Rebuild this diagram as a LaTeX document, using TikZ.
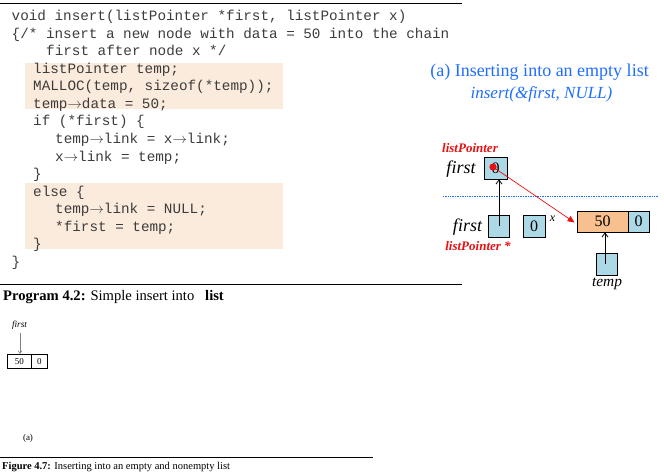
\documentclass[tikz,border=0pt]{standalone}
\usepackage{fontspec}
\setmainfont{Liberation Serif}
\newfontfamily\codefont{Liberation Mono}
\usetikzlibrary{arrows.meta}
\definecolor{peach}{RGB}{251,235,220}
\definecolor{codegray}{RGB}{60,60,60}
\definecolor{titleblue}{RGB}{30,110,255}
\definecolor{boxblue}{RGB}{173,216,230}
\definecolor{nodeorange}{RGB}{249,192,143}
\definecolor{labelred}{RGB}{232,16,16}
\newcommand{\codearrow}{\ensuremath{\rightarrow}}
\tikzset{
  codeline/.style={anchor=base west,inner sep=0pt,text=codegray,font=\codefont\fontsize{14.3}{17.6}\selectfont},
  hilite/.style={fill=peach,draw=none},
  rule/.style={line width=1pt,black},
  ptrbox/.style={draw=black,line width=0.8pt,fill=boxblue,minimum width=22pt,minimum height=22pt,inner sep=0pt,font=\fontsize{16}{16}\selectfont},
  datacell/.style={draw=black,line width=0.8pt,fill=nodeorange,minimum width=51pt,minimum height=21pt,inner sep=0pt,font=\fontsize{16}{16}\selectfont},
  linkcell/.style={draw=black,line width=0.8pt,fill=boxblue,minimum width=21pt,minimum height=21pt,inner sep=0pt,font=\fontsize{16}{16}\selectfont},
  varlabel/.style={inner sep=0pt,font=\itshape\fontsize{18}{18}\selectfont},
  typelabel/.style={inner sep=0pt,text=labelred,font=\bfseries\itshape\fontsize{13}{13}\selectfont},
  ptrarrow/.style={-{Straight Barb[length=4pt,width=6pt]},line width=0.8pt,black},
  redarrow/.style={-{Triangle[length=7pt,width=6pt]},line width=0.7pt,labelred},
  smallbox/.style={draw=black,line width=0.5pt,minimum height=14pt,inner sep=0pt,font=\fontsize{9}{9}\selectfont},
}
\begin{document}
\begin{tikzpicture}[x=1pt,y=-1pt]
\useasboundingbox (0,0) rectangle (664,474);
% highlight boxes
\fill[hilite] (25,63) rectangle (283,109);
\fill[hilite] (25,183) rectangle (283,249);
% rules
\draw[rule] (0,3) -- (462,3);
\draw[rule] (0,284) -- (462,284);
\draw[rule] (0,457) -- (373,457);
% code
\node[codeline] (c0) at (11.5,20.5) {void insert(listPointer *first, listPointer x)};
\node[codeline] (c1) at (11.5,38.1) {\{/* insert a new node with data = 50 into the chain};
\node[codeline] (c2) at (46,55.6) {first after node x */};
\node[codeline] (c3) at (33,73.2) {listPointer temp;};
\node[codeline] (c4) at (33,90.8) {MALLOC(temp, sizeof(*temp));};
\node[codeline] (c5) at (33,108.4) {temp\codearrow data = 50;};
\node[codeline] (c6) at (33,125.9) {if (*first) \{};
\node[codeline] (c7) at (55,143.5) {temp\codearrow link = x\codearrow link;};
\node[codeline] (c8) at (55,161.1) {x\codearrow link = temp;};
\node[codeline] (c9) at (33,178.6) {\}};
\node[codeline] (c10) at (33,196.2) {else \{};
\node[codeline] (c11) at (55,213.8) {temp\codearrow link = NULL;};
\node[codeline] (c12) at (55,231.3) {*first = temp;};
\node[codeline] (c13) at (33,248.9) {\}};
\node[codeline] (c14) at (11.5,266.5) {\}};
% program caption
\node[anchor=base west,inner sep=0pt,font=\fontsize{14.6}{14.6}\selectfont] (pcap) at (3,300.5) {\textbf{Program 4.2:} Simple insert into};
\node[anchor=base west,inner sep=0pt,font=\bfseries\fontsize{14.6}{14.6}\selectfont] (plist) at (205,300.5) {list};
% lower-left figure
\node[inner sep=0pt,font=\itshape\fontsize{9.3}{9.3}\selectfont] (sfirst) at (19.5,325) {first};
\node[smallbox,minimum width=24pt,anchor=north west] (s50) at (7,354) {50};
\node[smallbox,minimum width=16pt,anchor=north west] (s0) at (31,354) {0};
\draw[-{Straight Barb[length=3pt,width=4pt]},line width=0.5pt,gray] (20,333) -- (20,354);
\node[inner sep=0pt,font=\fontsize{9}{9}\selectfont] (la) at (28,438) {(a)};
\node[anchor=base west,inner sep=0pt,font=\fontsize{10.5}{10.5}\selectfont] (fcap) at (2,469.5) {\textbf{Figure 4.7:} Inserting into an empty and nonempty list};
% right diagram titles
\node[inner sep=0pt,text=titleblue,font=\fontsize{18}{18}\selectfont] (t1) at (539.5,72) {(a) Inserting into an empty list};
\node[inner sep=0pt,text=titleblue,font=\itshape\fontsize{17}{17}\selectfont] (t2) at (541.5,94) {insert(\&first, NULL)};
% dotted separator
\draw[densely dotted,line width=0.7pt,titleblue] (443,196) -- (658,196);
% boxes
\node[ptrbox,minimum width=23pt] (tf) at (495.5,168) {0};
\node[ptrbox,minimum width=21pt] (bf) at (498.5,226) {};
\node[ptrbox] (xb) at (534,226) {0};
\node[datacell] (nd) at (602.5,221.5) {50};
\node[linkcell] (nl) at (638.5,221.5) {0};
\node[ptrbox,minimum width=21pt] (tp) at (606.5,264) {};
% labels
\node[typelabel] (lp1) at (470,148) {listPointer};
\node[varlabel] (vf1) at (461,169) {first};
\node[varlabel] (vf2) at (467.5,227) {first};
\node[typelabel] (lp2) at (478,246) {listPointer *};
\node[inner sep=0pt,font=\itshape\fontsize{12}{12}\selectfont] (vx) at (552.5,219) {x};
\node[inner sep=0pt,font=\itshape\fontsize{15.4}{15.4}\selectfont] (vt) at (607,284) {temp};
% arrows
\draw[ptrarrow] ([xshift=0.5pt]bf.center) -- ([xshift=0.5pt]bf.center |- tf.south);
\draw[ptrarrow] ([xshift=-1.5pt]tp.center) -- ([xshift=-1.5pt]tp.center |- nd.south);
\coordinate (dot) at (493,167);
\draw[redarrow] (dot) -- ([shift={(-2pt,-1pt)}]nd.west);
\fill[labelred] (dot) circle (3.6pt);
\end{tikzpicture}
\end{document}
